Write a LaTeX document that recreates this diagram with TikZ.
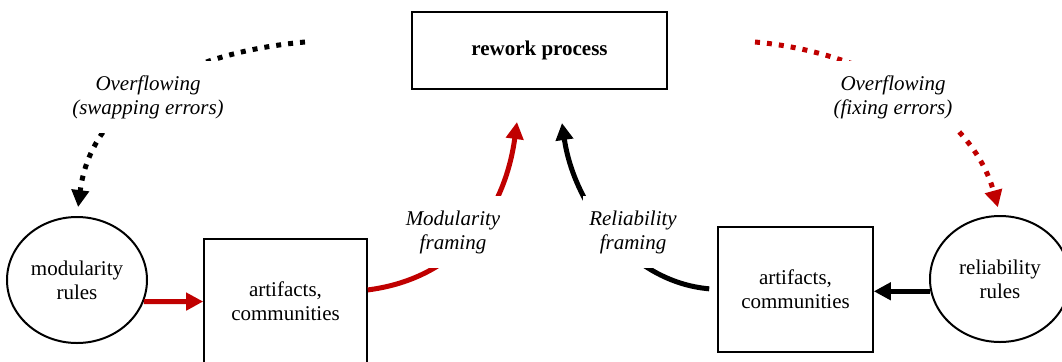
\documentclass[tikz,border=0pt]{standalone}
\usepackage{fontspec}
\setmainfont{Liberation Serif}
\usetikzlibrary{arrows.meta}
\usetikzlibrary{shapes.geometric}

\definecolor{darkred}{RGB}{192,0,0}

\begin{document}
\begin{tikzpicture}[x=.5pt,y=-.5pt,
 font=\fontsize{10.5}{12}\selectfont,
 >={Triangle[length=8.5pt,width=8.5pt]},
 box/.style={draw,line width=.8pt,align=center,inner sep=0pt},
 rules/.style={draw,ellipse,line width=1pt,align=center,minimum width=70pt,minimum height=63pt,inner sep=0pt},
 flow/.style={line width=2.5pt,->},
 spill/.style={line width=2.5pt,dash pattern=on 2.5pt off 3.5pt,->},
 tag/.style={fill=white,align=center,font=\fontsize{10.5}{12}\selectfont\itshape,inner xsep=3pt,inner ysep=7pt}]
\useasboundingbox (0,0) rectangle (1062,361);
\node[box,minimum width=127.5pt,minimum height=38.5pt,font=\fontsize{10.5}{12}\selectfont\bfseries] (rework) at (539.5,50.5) {rework process};
\node[rules] (modrules) at (77,280) {modularity\\rules};
\node[rules] (relrules) at (1000,279) {reliability\\rules};
\node[box,minimum width=81.5pt,minimum height=62.5pt] (artleft) at (285.5,301.5) {artifacts,\\communities};
\node[box,minimum width=77.5pt,minimum height=62.5pt] (artright) at (795.5,289.5) {artifacts,\\communities};
\coordinate (modin) at (517,122);
\coordinate (relin) at (562,123);
\coordinate (swapfrom) at (305,42);
\coordinate (fixfrom) at (755,42);

\draw[flow,darkred] (modrules.-18) -- (artleft.west);
\draw[flow] (relrules.190) -- (relrules.190 -| artright.east);
\draw[flow,darkred] (artleft.8) .. controls (460,278) and (505,210) .. (modin);
\draw[flow,shorten <=4pt] (artright.west) .. controls (630,282) and (574,205) .. (relin);
\draw[spill,shorten >=4.5pt] (swapfrom) .. controls (193,52) and (92,98) .. (modrules.north);
\draw[spill,darkred,shorten >=4pt] (fixfrom) .. controls (867,52) and (972,112) .. (relrules.north);

\node[tag] (swaptag) at (148,97) {Overflowing\\(swapping errors)};
\node[tag] (fixtag) at (893,97) {Overflowing\\(fixing errors)};
\node[tag] (modtag) at (453,232) {Modularity\\framing};
\node[tag] (reltag) at (633,232) {Reliability\\framing};
\end{tikzpicture}
\end{document}
